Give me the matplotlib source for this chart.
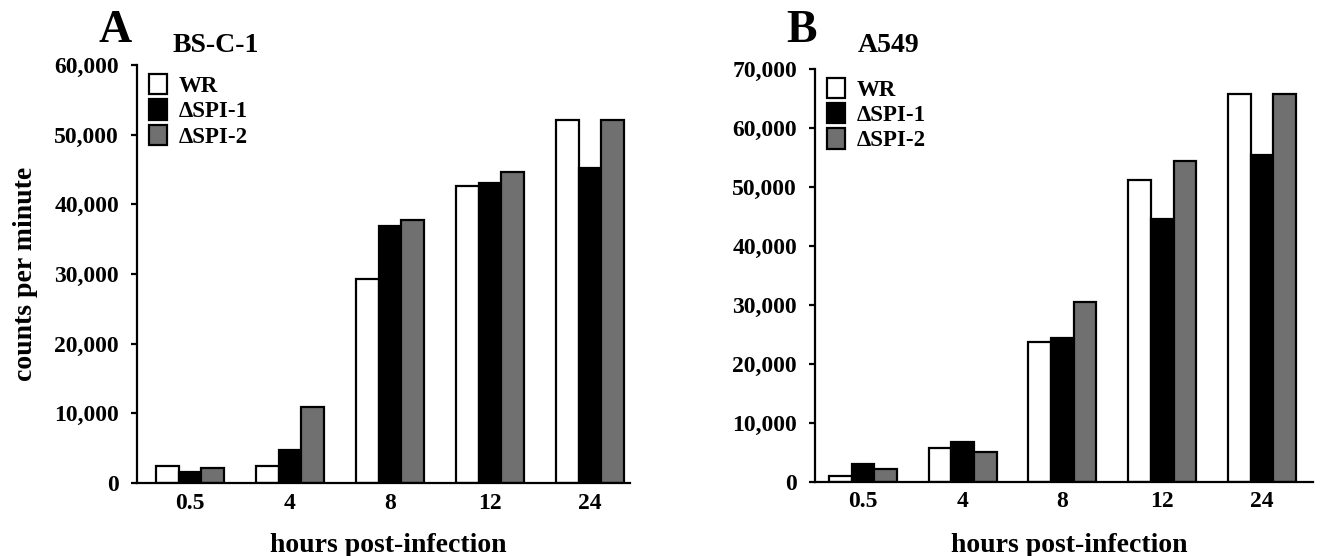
import matplotlib
matplotlib.use("Agg")
import matplotlib.pyplot as plt
from matplotlib.patches import Patch
from matplotlib.ticker import FuncFormatter
import numpy as np

hours = ["0.5", "4", "8", "12", "24"]
series_names = ["WR", "\u0394SPI-1", "\u0394SPI-2"]
series_colors = ["white", "black", "#707070"]

A_WR = [2400, 2400, 29300, 42700, 52100]
A_SPI1 = [1600, 4800, 36900, 43100, 45200]
A_SPI2 = [2100, 10900, 37800, 44700, 52100]

B_WR = [1000, 5700, 23700, 51100, 65800]
B_SPI1 = [2950, 6800, 24400, 44500, 55400]
B_SPI2 = [2100, 5100, 30400, 54400, 65800]

plt.rcParams['font.family'] = ['Liberation Serif', 'DejaVu Serif']
plt.rcParams['font.weight'] = 'bold'

fig = plt.figure(figsize=(13.23, 5.56), dpi=100)
axA = fig.add_axes([0.1036, 0.1313, 0.3726, 0.7518])
axB = fig.add_axes([0.616, 0.1336, 0.3764, 0.7428])

w = 0.227
fmt = FuncFormatter(lambda v, p: f"{int(v):,}")


def draw(ax, data, ymax, xlim, letter, title, lx, ly, tx, ty, legx, legy, xly):
    x = np.arange(len(hours))
    for i, (vals, col) in enumerate(zip(data, series_colors)):
        ax.bar(x + (i - 1) * w, vals, width=w, color=col, edgecolor='black',
               linewidth=1.6, zorder=2)
    ax.set_xlim(*xlim)
    ax.set_ylim(0, ymax)
    ax.set_yticks(np.arange(0, ymax + 1, 10000))
    ax.yaxis.set_major_formatter(fmt)
    ax.set_xticks(x)
    ax.set_xticklabels(hours)
    for s in ['top', 'right']:
        ax.spines[s].set_visible(False)
    for s in ['left', 'bottom']:
        ax.spines[s].set_linewidth(1.6)
    ax.tick_params(axis='y', direction='out', length=4, width=1.6,
                   labelsize=17, pad=9)
    ax.tick_params(axis='x', length=0, labelsize=17, pad=7)
    for t in ax.get_xticklabels() + ax.get_yticklabels():
        t.set_fontweight('bold')
    ax.set_xlabel("hours post-infection", fontsize=20, fontweight='bold',
                  va='top')
    ax.xaxis.set_label_coords(0.51, xly)
    handles = [Patch(facecolor=c, edgecolor='black', linewidth=1.6)
               for c in series_colors]
    ax.legend(handles, series_names, loc='upper left',
              bbox_to_anchor=(legx, legy), frameon=False,
              prop={'family': 'Liberation Serif', 'weight': 'bold',
                    'size': 16.5},
              handlelength=0.8, handleheight=1.0, handletextpad=0.5,
              labelspacing=0.1, borderaxespad=0.2)
    ax.text(lx, ly, letter, transform=ax.transAxes, fontsize=33,
            fontweight='bold', ha='left', va='baseline')
    ax.text(tx, ty, title, transform=ax.transAxes, fontsize=20,
            fontweight='bold', ha='left', va='baseline')


draw(axA, [A_WR, A_SPI1, A_SPI2], 60000, (-0.53, 4.40), "A", "BS-C-1",
     -0.078, 1.055, 0.073, 1.031, -0.004, 1.012, -0.12)
draw(axB, [B_WR, B_SPI1, B_SPI2], 70000, (-0.48, 4.51), "B", "A549",
     -0.058, 1.065, 0.086, 1.04, -0.004, 1.012, -0.124)
axA.set_ylabel("counts per minute", fontsize=20, fontweight='bold')
axA.yaxis.set_label_coords(-0.20, 0.5)

fig.savefig("out.png", dpi=100, facecolor='white')
